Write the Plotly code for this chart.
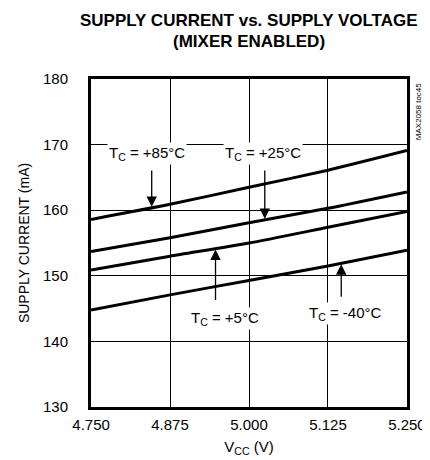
import numpy as np
import plotly.graph_objects as go

vcc = [4.750, 4.875, 5.000, 5.125, 5.250]
i_85 = [158.6, 160.9, 163.5, 166.1, 169.1]
i_25 = [153.7, 155.8, 158.1, 160.3, 162.8]
i_5 = [150.9, 153.0, 155.0, 157.4, 159.8]
i_m40 = [144.8, 147.1, 149.3, 151.5, 153.9]

x_ticks = [4.750, 4.875, 5.000, 5.125, 5.250]
x_ticklabels = ["4.750", "4.875", "5.000", "5.125", "5.250"]
y_ticks = [130, 140, 150, 160, 170, 180]

FONT = "Liberation Sans, Arial, sans-serif"

def f(size, **kw):
    return dict(family=FONT, size=size, color="black", **kw)

fig = go.Figure()
for ys in [i_85, i_25, i_5, i_m40]:
    fig.add_trace(go.Scatter(x=vcc, y=ys, mode="lines",
                             line=dict(color="black", width=3, shape="spline", smoothing=0.6),
                             showlegend=False, hoverinfo="skip"))

labels = [
    ("T<sub>C</sub> = +85°C", 4.839, 168.6, 4.846, 166.3, i_85),
    ("T<sub>C</sub> = +25°C", 5.022, 168.6, 5.025, 166.3, i_25),
    ("T<sub>C</sub> = +5°C", 4.962, 143.5, 4.947, 146.1, i_5),
    ("T<sub>C</sub> = -40°C", 5.152, 144.3, 5.146, 146.6, i_m40),
]
for text, tx, ty, axx, tail, curve in labels:
    tip = float(np.interp(axx, vcc, curve))
    fig.add_annotation(x=axx, y=tip, ax=axx, ay=tail, xref="x", yref="y",
                       axref="x", ayref="y", text="", showarrow=True,
                       arrowhead=2, arrowsize=1.6, arrowwidth=1.3, arrowcolor="black",
                       standoff=1)
    fig.add_annotation(x=tx, y=ty, xref="x", yref="y", text=text, showarrow=False,
                       bgcolor="white", borderpad=1, font=f(15))

fig.add_annotation(x=1.037, y=0.901, xref="paper", yref="paper", text="MAX2058 toc45",
                   showarrow=False, textangle=-90, xanchor="center", yanchor="middle",
                   font=f(8))

fig.add_annotation(x=0.5, y=1.0, xref="paper", yref="paper",
                   text="<b>SUPPLY CURRENT vs. SUPPLY VOLTAGE</b>", showarrow=False,
                   xanchor="center", yanchor="bottom", yshift=47, font=f(17))
fig.add_annotation(x=0.5, y=1.0, xref="paper", yref="paper",
                   text="<b>(MIXER ENABLED)</b>", showarrow=False,
                   xanchor="center", yanchor="bottom", yshift=26, font=f(17))

fig.update_layout(
    width=430, height=460,
    margin=dict(l=83, r=20, t=71, b=61),
    paper_bgcolor="white", plot_bgcolor="white",
    font=f(15),
)
fig.update_xaxes(range=[4.7499, 5.2501], tickvals=x_ticks, ticktext=x_ticklabels,
                 showgrid=True, gridcolor="black", gridwidth=1,
                 showline=True, linecolor="black", linewidth=3, mirror=True,
                 ticks="", zeroline=False, tickfont=f(15), ticklabelstandoff=2,
                 title=dict(text="V<sub>CC</sub> (V)", font=f(15), standoff=10))
fig.update_yaxes(range=[130, 180.01], tickvals=y_ticks,
                 showgrid=True, gridcolor="black", gridwidth=1,
                 showline=True, linecolor="black", linewidth=3, mirror=True,
                 ticks="", zeroline=False, tickfont=f(15), ticklabelstandoff=17,
                 title=dict(text="SUPPLY CURRENT (mA)", font=f(14), standoff=11))

fig.write_html("out.html")
